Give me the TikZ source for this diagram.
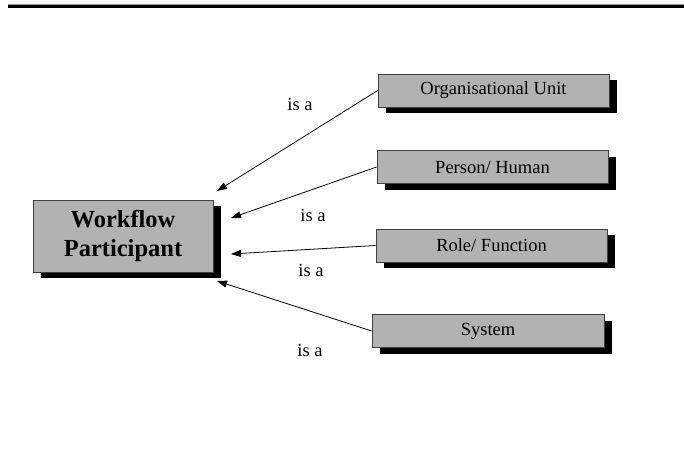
\documentclass[tikz,border=0pt]{standalone}
\usepackage{fontspec}
\setmainfont{Liberation Serif}
\usetikzlibrary{arrows.meta,shadows}
\begin{document}
\begin{tikzpicture}[x=1pt,y=-1pt,
  box/.style={draw=black!75, line width=0.8pt, fill=black!30, inner sep=0pt,
    drop shadow={shadow xshift=8pt, shadow yshift=-6pt, fill=black, opacity=1}},
  smallbox/.style={box, minimum width=231pt, minimum height=33pt,
    font=\fontsize{18.5}{22}\selectfont},
  isa/.style={font=\fontsize{18.5}{22}\selectfont, inner sep=0pt},
  arr/.style={-{Triangle[length=10pt,width=7pt]}, line width=0.8pt}]
\useasboundingbox (0,0) rectangle (684,452);
% top rule
\coordinate (rl) at (8,4.5);
\coordinate (rr) at (684,4.5);
\coordinate (bl) at (8,6.5);
\coordinate (br) at (684,6.5);
\draw[black!40, line width=1pt] (rl) -- (rr);
\draw[black, line width=3pt] (bl) -- (br);
% nodes
\node[box, minimum width=180pt, minimum height=72pt, align=center,
  font=\fontsize{24.5}{29}\selectfont\bfseries] (wp) at (123,236) {Workflow\\Participant};
\node[smallbox] (ou) at (493.5,90.5) {Organisational Unit};
\node[smallbox] (ph) at (492.5,167) {Person/ Human};
\node[smallbox] (rf) at (491.5,245.5) {Role/ Function};
\node[smallbox, minimum width=232pt] (sy) at (488,331) {System};
% arrow tips
\coordinate (t1) at (217,191);
\coordinate (t2) at (231,218);
\coordinate (t3) at (231,254);
\coordinate (t4) at (217,281);
\draw[arr] (ou.west) -- (t1);
\draw[arr] (ph.west) -- (t2);
\draw[arr] (rf.west) -- (t3);
\draw[arr] (sy.west) -- (t4);
% labels
\node[isa] (l1) at (300,104) {is a};
\node[isa] (l2) at (313,215) {is a};
\node[isa] (l3) at (311,270) {is a};
\node[isa] (l4) at (310,350) {is a};
\end{tikzpicture}
\end{document}
